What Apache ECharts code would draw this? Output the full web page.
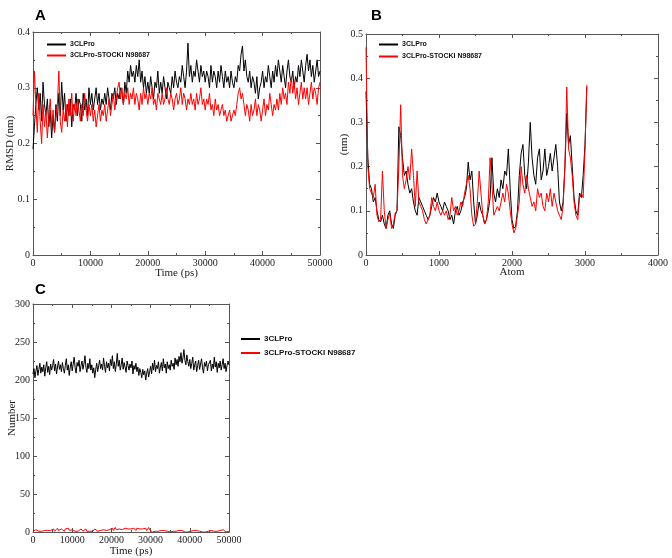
<!DOCTYPE html>
<html><head><meta charset="utf-8">
<script src="https://cdn.jsdelivr.net/npm/echarts@6/dist/echarts.min.js"></script>
<style>html,body{margin:0;padding:0;background:#fff}#c{width:672px;height:558px}</style>
</head><body><div id="c"></div><script>
// ---- Panel A: RMSD (nm) vs Time (ps), sampled every 250 ps ----
const rmsdStep = 250;
const rmsdProtein = [
0.19,0.23,0.27,0.30,0.26,0.29,0.24,0.31,0.27,0.25,
0.28,0.23,0.26,0.21,0.25,0.22,0.27,0.24,0.29,0.25,
0.31,0.26,0.29,0.24,0.27,0.25,0.28,0.23,0.27,0.26,
0.29,0.25,0.28,0.27,0.24,0.29,0.26,0.28,0.25,0.30,
0.27,0.29,0.26,0.28,0.30,0.27,0.29,0.26,0.28,0.27,
0.29,0.27,0.30,0.28,0.26,0.29,0.28,0.30,0.27,0.29,
0.28,0.30,0.29,0.27,0.31,0.29,0.33,0.31,0.34,0.32,
0.33,0.31,0.34,0.32,0.35,0.31,0.33,0.30,0.32,0.29,
0.31,0.29,0.32,0.30,0.28,0.31,0.30,0.33,0.29,0.31,
0.29,0.32,0.30,0.28,0.31,0.30,0.29,0.32,0.30,0.33,
0.31,0.30,0.32,0.31,0.34,0.32,0.30,0.33,0.38,0.32,
0.34,0.31,0.33,0.32,0.35,0.33,0.31,0.34,0.32,0.33,
0.31,0.33,0.32,0.30,0.34,0.31,0.33,0.32,0.30,0.33,
0.31,0.34,0.32,0.30,0.33,0.31,0.32,0.30,0.33,0.31,
0.30,0.32,0.31,0.34,0.33,0.36,0.375,0.33,0.35,0.32,
0.31,0.33,0.30,0.32,0.31,0.29,0.32,0.28,0.30,0.31,
0.33,0.30,0.32,0.31,0.34,0.32,0.30,0.33,0.31,0.34,
0.32,0.35,0.33,0.31,0.34,0.32,0.30,0.33,0.35,0.32,
0.31,0.33,0.30,0.32,0.31,0.34,0.32,0.35,0.33,0.31,
0.34,0.36,0.33,0.35,0.32,0.34,0.31,0.33,0.35,0.32,
0.33];
const rmsdComplex = [
0.25,0.33,0.27,0.22,0.29,0.24,0.20,0.27,0.23,0.26,
0.21,0.25,0.28,0.23,0.26,0.22,0.25,0.27,0.33,0.24,
0.22,0.26,0.24,0.27,0.23,0.28,0.25,0.29,0.24,0.27,
0.25,0.28,0.26,0.24,0.27,0.25,0.29,0.26,0.24,0.27,
0.25,0.27,0.24,0.26,0.23,0.25,0.27,0.24,0.26,0.25,
0.27,0.24,0.26,0.28,0.25,0.27,0.29,0.26,0.28,0.30,
0.31,0.28,0.30,0.27,0.29,0.28,0.30,0.27,0.29,0.28,
0.30,0.27,0.29,0.28,0.26,0.29,0.27,0.30,0.28,0.29,
0.27,0.29,0.28,0.30,0.27,0.28,0.26,0.29,0.28,0.27,
0.29,0.27,0.28,0.30,0.28,0.27,0.29,0.28,0.26,0.28,
0.29,0.27,0.28,0.30,0.27,0.29,0.28,0.26,0.28,0.27,
0.29,0.27,0.28,0.26,0.29,0.27,0.28,0.30,0.27,0.28,
0.26,0.28,0.27,0.29,0.26,0.27,0.25,0.28,0.26,0.27,
0.25,0.26,0.27,0.25,0.26,0.24,0.25,0.26,0.24,0.25,
0.26,0.25,0.27,0.29,0.30,0.28,0.29,0.27,0.25,0.27,
0.26,0.24,0.27,0.25,0.26,0.28,0.25,0.27,0.26,0.24,
0.26,0.28,0.25,0.27,0.26,0.29,0.27,0.25,0.27,0.26,
0.28,0.26,0.29,0.27,0.30,0.28,0.29,0.27,0.31,0.29,
0.32,0.29,0.31,0.28,0.30,0.27,0.29,0.31,0.28,0.30,
0.28,0.30,0.27,0.29,0.31,0.28,0.30,0.29,0.27,0.30,
0.31];

// ---- Panel B: RMSF (nm) vs Atom, sampled every 25 atoms ----
const rmsfStep = 25;
const rmsfProtein = [
0.37,0.22,0.16,0.15,0.12,0.13,0.10,0.08,0.075,0.09,
0.07,0.06,0.09,0.10,0.07,0.06,0.09,0.10,0.29,0.27,
0.22,0.18,0.19,0.16,0.14,0.15,0.12,0.10,0.09,0.13,
0.12,0.11,0.10,0.09,0.08,0.09,0.11,0.13,0.12,0.14,
0.12,0.11,0.10,0.12,0.11,0.10,0.08,0.09,0.07,0.10,
0.11,0.09,0.10,0.12,0.13,0.15,0.21,0.17,0.19,0.12,
0.07,0.09,0.12,0.10,0.09,0.07,0.08,0.10,0.13,0.22,
0.14,0.12,0.15,0.13,0.17,0.15,0.19,0.18,0.24,0.15,
0.08,0.06,0.065,0.10,0.18,0.23,0.25,0.18,0.15,0.21,
0.30,0.22,0.18,0.16,0.22,0.24,0.17,0.19,0.24,0.18,
0.20,0.23,0.19,0.22,0.25,0.20,0.12,0.10,0.12,0.20,
0.32,0.25,0.27,0.20,0.13,0.10,0.09,0.14,0.13,0.18,
0.25,0.38];
const rmsfComplex = [
0.47,0.20,0.15,0.14,0.13,0.16,0.09,0.075,0.08,0.19,
0.10,0.06,0.08,0.095,0.06,0.07,0.095,0.10,0.20,0.34,
0.18,0.15,0.17,0.20,0.17,0.24,0.18,0.11,0.19,0.12,
0.11,0.10,0.08,0.07,0.08,0.09,0.13,0.11,0.10,0.12,
0.10,0.09,0.10,0.09,0.10,0.08,0.09,0.13,0.10,0.11,
0.09,0.10,0.12,0.11,0.14,0.16,0.18,0.15,0.09,0.065,
0.07,0.12,0.19,0.14,0.09,0.07,0.08,0.12,0.22,0.16,
0.09,0.10,0.11,0.10,0.12,0.14,0.12,0.16,0.14,0.10,
0.07,0.05,0.06,0.09,0.12,0.20,0.16,0.14,0.18,0.15,
0.13,0.11,0.12,0.10,0.15,0.13,0.14,0.11,0.10,0.14,
0.12,0.15,0.11,0.14,0.12,0.10,0.09,0.08,0.11,0.20,
0.38,0.24,0.22,0.18,0.12,0.09,0.08,0.13,0.14,0.13,
0.24,0.385];

// ---- Panel C: H-bond Number vs Time (ps), sampled every 250 ps ----
const hbStep = 250;
const hbProtein = [
208,215,203,212,219,206,214,222,209,217,
211,220,205,216,224,210,218,207,221,213,
219,227,212,221,208,217,225,214,220,211,
223,215,209,219,228,213,220,206,217,224,
212,221,230,216,209,223,218,226,211,219,
225,214,221,232,217,210,222,215,228,213,
220,209,216,203,214,222,211,219,226,215,
221,213,229,218,210,224,216,222,212,227,
219,232,215,224,211,221,235,218,226,213,
220,229,214,223,217,210,225,219,213,221,
216,225,208,219,214,222,211,217,206,215,
210,203,214,207,212,200,209,215,204,211,
218,208,222,213,226,211,219,215,224,209,
217,223,212,228,216,221,209,224,215,220,
213,226,218,222,214,229,220,227,218,231,
224,236,222,229,240,226,220,233,224,218,
227,215,222,230,213,220,225,211,219,226,
214,221,228,216,209,223,218,225,212,220,
218,226,212,221,215,230,217,224,210,222,
216,225,213,220,228,215,222,211,219,224,
220];
const hbComplex = [
1,2,0,3,1,2,1,0,2,1,
3,1,2,0,1,2,3,1,2,1,
2,4,1,3,2,5,2,3,1,4,
2,3,1,4,2,3,5,2,3,1,
3,2,4,1,3,2,1,3,2,4,
2,1,3,2,4,1,2,3,1,2,
3,1,2,4,2,3,1,2,3,2,
4,2,3,1,3,2,4,2,3,5,
3,5,2,4,6,3,5,2,4,3,
5,3,4,2,5,3,6,4,3,5,
4,6,3,5,4,2,5,3,6,4,
5,3,4,6,3,5,2,4,6,3,
2,1,0,2,1,1,0,2,1,0,
1,2,0,1,2,1,0,1,2,1,
0,1,2,1,0,2,1,0,1,2,
1,0,2,1,1,0,2,1,0,1,
2,1,0,1,2,0,1,2,1,0,
1,2,1,0,1,2,0,1,2,1,
0,1,2,1,3,1,0,2,1,0,
1,2,0,1,3,1,2,0,1,2,
1];

const seriesNames = ['3CLPro', '3CLPro-STOCKI N98687'];
const panelLabels = ['A', 'B', 'C'];
const timeAxisTicks = {min: 0, max: 50000, interval: 10000};
const atomAxisTicks = {min: 0, max: 4000, interval: 1000};

function pairs(step, vals) { return vals.map((v, i) => [i * step, v]); }

const serif = 'Liberation Serif';
const frameColor = '#555';
const plainNum = v => String(v);
function xAx(g, cfg, name, gap, mirror) {
  return {
    type: 'value', gridIndex: g, min: cfg.min, max: cfg.max, interval: cfg.interval,
    position: mirror ? 'top' : 'bottom',
    name: mirror ? '' : name, nameLocation: 'middle', nameGap: gap, nameMoveOverlap: false,
    nameTextStyle: {fontFamily: serif, fontSize: 11, color: '#222'},
    axisLine: {show: true, onZero: false, lineStyle: {color: frameColor, width: 1}},
    axisTick: {show: true, inside: true, length: 4, lineStyle: {color: frameColor}},
    minorTick: {show: true, splitNumber: 2, length: 2, lineStyle: {color: frameColor}},
    splitLine: {show: false},
    axisLabel: {show: !mirror, formatter: plainNum, fontFamily: serif, fontSize: 10, color: '#222', margin: 3, hideOverlap: false}
  };
}
function yAx(g, cfg, name, gap, mirror) {
  return {
    type: 'value', gridIndex: g, min: cfg.min, max: cfg.max, interval: cfg.interval,
    position: mirror ? 'right' : 'left',
    name: mirror ? '' : name, nameLocation: 'middle', nameGap: gap, nameRotate: 90, nameMoveOverlap: false,
    nameTextStyle: {fontFamily: serif, fontSize: 11, color: '#222'},
    axisLine: {show: true, onZero: false, lineStyle: {color: frameColor, width: 1}},
    axisTick: {show: true, inside: true, length: 4, lineStyle: {color: frameColor}},
    minorTick: {show: true, splitNumber: 2, length: 2, lineStyle: {color: frameColor}},
    splitLine: {show: false},
    axisLabel: {show: !mirror, formatter: plainNum, fontFamily: serif, fontSize: 10, color: '#222', margin: 3}
  };
}
function line(name, xi, data, color, z) {
  return {
    type: 'line', name: name, xAxisIndex: xi, yAxisIndex: xi, data: data,
    showSymbol: false, symbol: 'none', z: z,
    lineStyle: {color: color, width: 1}, itemStyle: {color: color}
  };
}
function legendAt(left, top, gap, size) {
  return {
    left: left, top: top, orient: 'vertical', padding: 0,
    icon: 'rect', itemWidth: 19, itemHeight: 2, itemGap: gap,
    data: seriesNames, selectedMode: false,
    textStyle: {fontFamily: 'Liberation Sans', fontWeight: 'bold', fontSize: size, color: '#111', padding: [0, 0, 0, -1]}
  };
}

const chart = echarts.init(document.getElementById('c'), null, {renderer: 'canvas'});
chart.setOption({
  animation: false,
  backgroundColor: '#fff',
  grid: [
    {left: 33, top: 32, width: 287, height: 223},
    {left: 366, top: 34, width: 292, height: 221},
    {left: 33, top: 304, width: 196, height: 229}
  ],
  xAxis: [
    xAx(0, timeAxisTicks, 'Time (ps)', 13, false), xAx(0, timeAxisTicks, '', 0, true),
    xAx(1, atomAxisTicks, 'Atom', 12, false), xAx(1, atomAxisTicks, '', 0, true),
    xAx(2, timeAxisTicks, 'Time (ps)', 14, false), xAx(2, timeAxisTicks, '', 0, true)
  ],
  yAxis: [
    yAx(0, {min: 0, max: 0.4, interval: 0.1}, 'RMSD (nm)', 17, false), yAx(0, {min: 0, max: 0.4, interval: 0.1}, '', 0, true),
    yAx(1, {min: 0, max: 0.5, interval: 0.1}, '(nm)', 16, false), yAx(1, {min: 0, max: 0.5, interval: 0.1}, '', 0, true),
    yAx(2, {min: 0, max: 300, interval: 50}, 'Number', 15, false), yAx(2, {min: 0, max: 300, interval: 50}, '', 0, true)
  ],
  legend: [legendAt(47, 41, 4, 7), legendAt(379, 41, 5, 7), legendAt(241, 335, 6, 8)],
  title: [
    {text: panelLabels[0], left: 30, top: 3, textStyle: {fontFamily: 'Liberation Sans', fontWeight: 'bold', fontSize: 15, color: '#000'}},
    {text: panelLabels[1], left: 366, top: 3, textStyle: {fontFamily: 'Liberation Sans', fontWeight: 'bold', fontSize: 15, color: '#000'}},
    {text: panelLabels[2], left: 30, top: 277, textStyle: {fontFamily: 'Liberation Sans', fontWeight: 'bold', fontSize: 15, color: '#000'}}
  ],
  series: [
    line(seriesNames[0], 0, pairs(rmsdStep, rmsdProtein), '#000', 2),
    line(seriesNames[1], 0, pairs(rmsdStep, rmsdComplex), '#ff0000', 3),
    line(seriesNames[0], 2, pairs(rmsfStep, rmsfProtein), '#000', 2),
    line(seriesNames[1], 2, pairs(rmsfStep, rmsfComplex), '#ff0000', 3),
    line(seriesNames[0], 4, pairs(hbStep, hbProtein), '#000', 2),
    line(seriesNames[1], 4, pairs(hbStep, hbComplex), '#ff0000', 3)
  ]
});
</script></body></html>
